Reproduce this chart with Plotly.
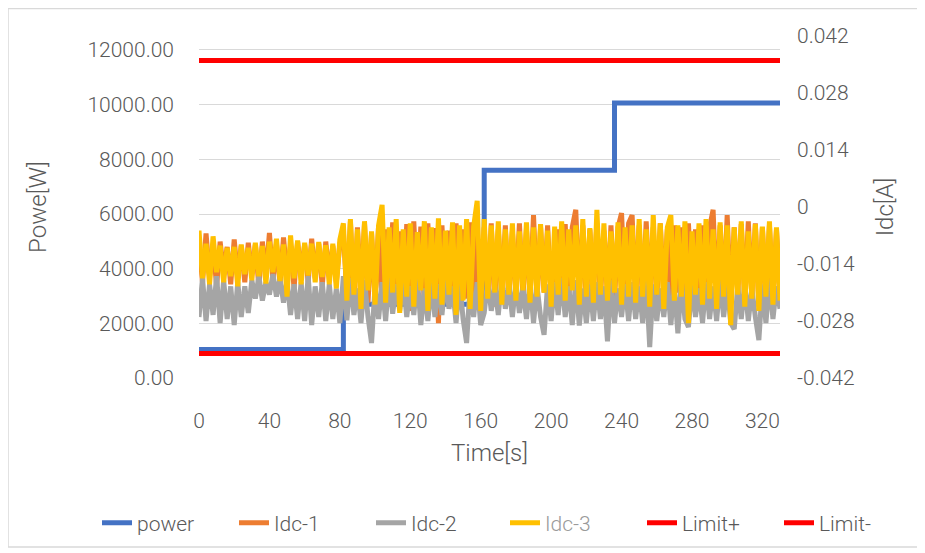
import plotly.graph_objects as go

# ---------------- data ----------------
time_s = list(range(0, 331, 2))

idc1 = [
    # 0-80 s
    -0.0090, -0.0185, -0.0065, -0.0170, -0.0095, -0.0195, -0.0085, -0.0160, -0.0098, -0.0190,
    -0.0080, -0.0175, -0.0095, -0.0185, -0.0088, -0.0165, -0.0092, -0.0195, -0.0085, -0.0170,
    -0.0064, -0.0180, -0.0090, -0.0190, -0.0075, -0.0170, -0.0095, -0.0200, -0.0085, -0.0165,
    -0.0092, -0.0185, -0.0078, -0.0175, -0.0090, -0.0195, -0.0085, -0.0170, -0.0095, -0.0185, -0.0090,
    # 82-160 s
    -0.0060, -0.0220, -0.0035, -0.0245, -0.0050, -0.0210, -0.0040, -0.0235, -0.0065, -0.0225,
    -0.0045, -0.0250, -0.0055, -0.0215, -0.0038, -0.0240, -0.0060, -0.0230, -0.0042, -0.0255,
    -0.0035, -0.0220, -0.0048, -0.0240, -0.0040, -0.0210, -0.0052, -0.0285, -0.0045, -0.0230,
    -0.0058, -0.0215, -0.0040, -0.0245, -0.0055, -0.0225, -0.0038, -0.0250, -0.0050, -0.0220,
    # 162-244 s
    -0.0050, -0.0220, -0.0040, -0.0245, -0.0055, -0.0215, -0.0045, -0.0230, -0.0060, -0.0210,
    -0.0040, -0.0225, -0.0055, -0.0215, -0.0020, -0.0230, -0.0050, -0.0210, -0.0045, -0.0225,
    -0.0240, -0.0055, -0.0215, -0.0042, -0.0230, -0.0050, -0.0007, -0.0220, -0.0045, -0.0235,
    -0.0055, -0.0210, -0.0040, -0.0225, -0.0058, -0.0215, -0.0045, -0.0230, -0.0050, -0.0015,
    -0.0220, -0.0040,
    # 246-330 s
    -0.0020, -0.0225, -0.0045, -0.0240, -0.0035, -0.0215, -0.0050, -0.0230, -0.0040, -0.0220,
    -0.0055, -0.0245, -0.0045, -0.0210, -0.0050, -0.0235, -0.0040, -0.0220, -0.0055, -0.0240,
    -0.0045, -0.0215, -0.0050, -0.0007, -0.0230, -0.0045, -0.0225, -0.0020, -0.0240, -0.0050,
    -0.0215, -0.0042, -0.0230, -0.0035, -0.0220, -0.0040, -0.0245, -0.0050, -0.0225, -0.0045,
    -0.0230, -0.0055, -0.0220,
]

idc2 = [
    # 0-80 s
    -0.0270, -0.0175, -0.0280, -0.0190, -0.0265, -0.0170, -0.0285, -0.0180, -0.0275, -0.0195,
    -0.0290, -0.0185, -0.0270, -0.0195, -0.0260, -0.0180, -0.0225, -0.0170, -0.0230, -0.0185,
    -0.0215, -0.0165, -0.0220, -0.0175, -0.0235, -0.0180, -0.0265, -0.0190, -0.0275, -0.0185,
    -0.0280, -0.0170, -0.0290, -0.0195, -0.0270, -0.0185, -0.0280, -0.0190, -0.0275, -0.0200, -0.0285,
    # 82-160 s
    -0.0170, -0.0278, -0.0175, -0.0265, -0.0200, -0.0285, -0.0180, -0.0270, -0.0334, -0.0195,
    -0.0275, -0.0185, -0.0280, -0.0170, -0.0262, -0.0190, -0.0255, -0.0180, -0.0270, -0.0195,
    -0.0265, -0.0175, -0.0290, -0.0200, -0.0280, -0.0185, -0.0270, -0.0190, -0.0265, -0.0175,
    -0.0250, -0.0195, -0.0285, -0.0180, -0.0275, -0.0334, -0.0190, -0.0270, -0.0185, -0.0290,
    # 162-244 s
    -0.0260, -0.0180, -0.0255, -0.0195, -0.0265, -0.0175, -0.0250, -0.0190, -0.0270, -0.0185,
    -0.0260, -0.0200, -0.0275, -0.0180, -0.0285, -0.0195, -0.0270, -0.0314, -0.0190, -0.0280,
    -0.0185, -0.0265, -0.0175, -0.0270, -0.0195, -0.0290, -0.0180, -0.0291, -0.0200, -0.0285,
    -0.0190, -0.0280, -0.0185, -0.0275, -0.0195, -0.0330, -0.0180, -0.0285, -0.0200, -0.0270,
    -0.0190, -0.0280,
    # 246-330 s
    -0.0185, -0.0275, -0.0195, -0.0285, -0.0180, -0.0344, -0.0190, -0.0280, -0.0200, -0.0270,
    -0.0185, -0.0290, -0.0195, -0.0310, -0.0180, -0.0275, -0.0295, -0.0190, -0.0270, -0.0200,
    -0.0285, -0.0185, -0.0275, -0.0195, -0.0280, -0.0180, -0.0270, -0.0190, -0.0285, -0.0300,
    -0.0195, -0.0275, -0.0185, -0.0280, -0.0200, -0.0270, -0.0327, -0.0190, -0.0285, -0.0180,
    -0.0275, -0.0195, -0.0250,
]

idc3 = [
    # 0-80 s
    -0.0058, -0.0175, -0.0090, -0.0190, -0.0072, -0.0160, -0.0095, -0.0185, -0.0100, -0.0170,
    -0.0098, -0.0195, -0.0092, -0.0165, -0.0100, -0.0180, -0.0088, -0.0170, -0.0096, -0.0188,
    -0.0085, -0.0160, -0.0078, -0.0182, -0.0092, -0.0220, -0.0070, -0.0175, -0.0082, -0.0190,
    -0.0088, -0.0168, -0.0090, -0.0185, -0.0086, -0.0172, -0.0094, -0.0190, -0.0090, -0.0200, -0.0080,
    # 82-160 s
    -0.0040, -0.0230, -0.0030, -0.0215, -0.0055, -0.0250, -0.0035, -0.0205, -0.0060, -0.0240,
    -0.0045, 0.0005, -0.0235, -0.0050, -0.0210, -0.0030, -0.0260, -0.0055, -0.0220, -0.0040,
    -0.0245, -0.0062, -0.0205, -0.0035, -0.0255, -0.0050, -0.0225, -0.0028, -0.0240, -0.0058,
    -0.0215, -0.0038, -0.0265, -0.0045, -0.0230, -0.0030, -0.0250, -0.0048, 0.0015, -0.0255,
    # 162-244 s
    -0.0030, -0.0225, -0.0045, -0.0210, -0.0035, -0.0240, -0.0055, -0.0215, -0.0040, -0.0230,
    -0.0060, -0.0205, -0.0038, -0.0235, -0.0050, -0.0220, -0.0042, -0.0210, -0.0058, -0.0245,
    -0.0048, -0.0215, -0.0035, -0.0230, -0.0055, -0.0205, -0.0045, -0.0240, -0.0030, -0.0220,
    -0.0052, -0.0235, -0.0007, -0.0215, -0.0040, -0.0230, -0.0060, -0.0210, -0.0038, -0.0240,
    -0.0050, -0.0220,
    # 246-330 s
    -0.0045, -0.0235, -0.0030, -0.0220, -0.0055, -0.0245, -0.0020, -0.0215, -0.0040, -0.0250,
    -0.0050, -0.0020, -0.0230, -0.0045, -0.0220, -0.0035, -0.0285, -0.0060, -0.0215, -0.0040,
    -0.0240, -0.0030, -0.0225, -0.0055, -0.0250, -0.0038, -0.0220, -0.0045, -0.0290, -0.0050,
    -0.0215, -0.0035, -0.0245, -0.0060, -0.0225, -0.0042, -0.0255, -0.0048, -0.0220, -0.0035,
    -0.0240, -0.0050, -0.0230,
]

power_time = [0, 82, 162, 236, 330]
power_w = [1040, 2700, 7600, 10060, 10060]

limit_time = [0, 330]
limit_pos = [0.036, 0.036]
limit_neg = [-0.036, -0.036]

x_ticks = [0, 40, 80, 120, 160, 200, 240, 280, 320]
left_ticks = [0, 2000, 4000, 6000, 8000, 10000, 12000]
right_ticks = [-0.042, -0.028, -0.014, 0, 0.014, 0.028, 0.042]
right_tick_text = ["-0.042", "-0.028", "-0.014", "0", "0.014", "0.028", "0.042"]

# ---------------- figure ----------------
GRAY = "#595959"
FONT = "Roboto"
LW = 5
W, H = 925, 553
PL, PT, PW, PH = 191, 28, 581, 342   # plot area (px)

fig = go.Figure()
fig.add_trace(go.Scatter(x=power_time, y=power_w, name="power", mode="lines", legend="legend",
                         line=dict(color="#4472C4", width=LW, shape="hv"), yaxis="y"))
fig.add_trace(go.Scatter(x=time_s, y=idc1, name="Idc-1", mode="lines", legend="legend",
                         line=dict(color="#ED7D31", width=LW), yaxis="y2"))
fig.add_trace(go.Scatter(x=time_s, y=idc2, name="Idc-2", mode="lines", legend="legend",
                         line=dict(color="#A5A5A5", width=LW), yaxis="y2"))
fig.add_trace(go.Scatter(x=time_s, y=idc3, name="<span style='color:#9a9a9a'>Idc-3</span>",
                         mode="lines", legend="legend2",
                         line=dict(color="#FFC000", width=LW), yaxis="y2"))
fig.add_trace(go.Scatter(x=limit_time, y=limit_pos, name="Limit+", mode="lines", legend="legend2",
                         line=dict(color="#FF0000", width=LW), yaxis="y2"))
fig.add_trace(go.Scatter(x=limit_time, y=limit_neg, name="Limit-", mode="lines", legend="legend2",
                         line=dict(color="#FF0000", width=LW), yaxis="y2"))

leg_common = dict(orientation="h", xref="container", yref="container", xanchor="left",
                  y=(H - 515) / H, yanchor="middle", itemwidth=30, entrywidth=92,
                  font=dict(size=21, color=GRAY, weight=300), bgcolor="rgba(0,0,0,0)",
                  traceorder="normal")

fig.update_layout(
    width=W, height=H,
    margin=dict(l=PL, r=W - PL - PW, t=PT, b=H - PT - PH),
    paper_bgcolor="white", plot_bgcolor="white",
    font=dict(family=FONT, size=21, color=GRAY, weight=300),
    showlegend=True,
    legend=dict(x=89 / W, **leg_common),
    legend2=dict(x=497 / W, **leg_common),
    xaxis=dict(range=[0, 330], tickvals=x_ticks, showgrid=False, zeroline=False,
               showline=False, ticks="", ticklabelstandoff=28, automargin=False,
               title=dict(text="Time[s]", font=dict(size=24, color=GRAY, weight=300), standoff=12)),
    yaxis=dict(range=[0, 12512], tickvals=left_ticks, tickformat=".2f",
               showgrid=True, gridcolor="#D9D9D9", gridwidth=1.3, zeroline=False,
               showline=False, ticks="", ticklabelstandoff=24, automargin=False,
               title=dict(text="Powe[W]", font=dict(size=24, color=GRAY, weight=300), standoff=34)),
    yaxis2=dict(range=[-0.042, 0.042], tickvals=right_ticks, ticktext=right_tick_text,
                overlaying="y", side="right", showgrid=False, zeroline=False,
                showline=False, ticks="", ticklabelstandoff=16, automargin=False,
                title=dict(text="Idc[A]", font=dict(size=24, color=GRAY, weight=300), standoff=22)),
    shapes=[dict(type="rect", xref="paper", yref="paper",
                 x0=(0 - PL) / PW, x1=(910 - PL) / PW,
                 y0=(PT + PH - 539) / PH, y1=(PT + PH - 0.5) / PH,
                 line=dict(color="#D9D9D9", width=1.5), fillcolor="rgba(0,0,0,0)",
                 layer="below")],
)

fig.write_html("out.html")
